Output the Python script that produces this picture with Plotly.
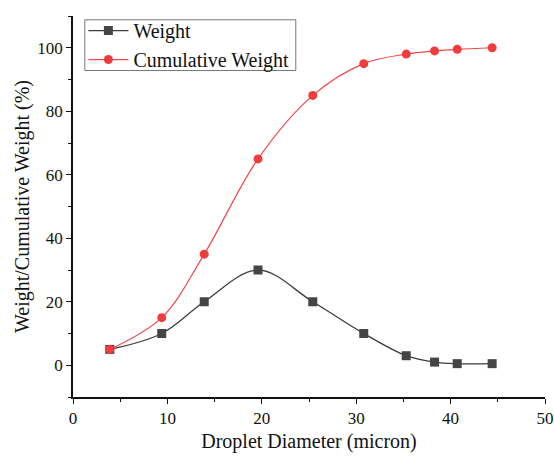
import plotly.graph_objects as go

diameter = [3.9, 9.4, 13.9, 19.6, 25.4, 30.8, 35.3, 38.3, 40.7, 44.4]
weight = [5, 10, 20, 30, 20, 10, 3, 1, 0.5, 0.5]
cumulative = [5, 15, 35, 65, 85, 95, 98, 99, 99.5, 100]

fig = go.Figure()
fig.add_trace(go.Scatter(
    x=diameter, y=weight, name="Weight", mode="lines+markers",
    line=dict(color="#3c3c3c", width=1.3, shape="spline", smoothing=1.0),
    marker=dict(symbol="square", size=9, color="#454545"),
))
fig.add_trace(go.Scatter(
    x=diameter, y=cumulative, name="Cumulative Weight", mode="lines+markers",
    line=dict(color="#f04848", width=1.2, shape="spline", smoothing=1.0),
    marker=dict(symbol="circle", size=9, color="#f03c3c"),
))

font_family = "Liberation Serif"
fig.update_layout(
    width=554, height=457,
    margin=dict(l=73, r=9, t=16, b=60),
    paper_bgcolor="white", plot_bgcolor="white",
    font=dict(family=font_family, color="#111111", size=17),
    showlegend=True,
    legend=dict(x=0.022, y=1.013, xanchor="left", yanchor="top",
                borderwidth=0, bgcolor="rgba(0,0,0,0)",
                font=dict(size=20, family=font_family), tracegroupgap=0,
                itemwidth=40),
    shapes=[dict(type="rect", xref="paper", yref="paper",
                 x0=0.025, x1=0.472, y0=0.857, y1=0.99,
                 line=dict(color="#777777", width=1), fillcolor="white",
                 layer="above")],
    xaxis=dict(range=[0, 50], dtick=10, showgrid=False, zeroline=False,
               automargin=False,
               showline=True, linecolor="#111111", linewidth=1.5,
               ticks="outside", ticklen=5, tickwidth=1.3, tickcolor="#111111",
               minor=dict(dtick=5, ticks="outside", ticklen=3, tickcolor="#111111"),
               title=dict(text="Droplet Diameter (micron)", font=dict(size=20, family=font_family), standoff=7),
               tickfont=dict(size=17, family=font_family)),
    yaxis=dict(range=[-10, 110], tickvals=[0, 20, 40, 60, 80, 100], showgrid=False,
               automargin=False,
               zeroline=False, showline=True, linecolor="#111111", linewidth=1.5,
               ticks="outside", ticklen=5, tickwidth=1.3, tickcolor="#111111",
               minor=dict(tickvals=[-10, 10, 30, 50, 70, 90, 110], ticks="outside", ticklen=3, tickcolor="#111111"),
               title=dict(text="Weight/Cumulative Weight (%)", font=dict(size=20, family=font_family), standoff=2),
               tickfont=dict(size=17, family=font_family)),
)

fig.write_html("out.html", config={"displayModeBar": False},
               post_script="document.body.style.margin='0';document.body.style.overflow='hidden';")
